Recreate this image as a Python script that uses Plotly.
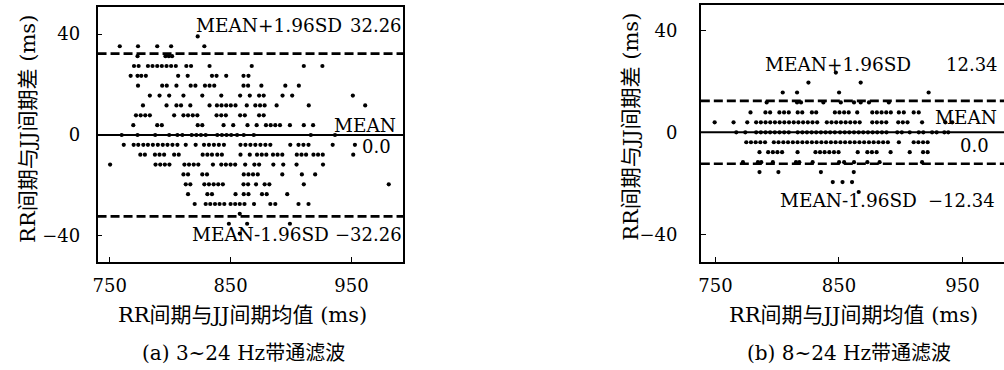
import plotly.graph_objects as go

# ---------------- data ----------------
# Panel (a): 3~24 Hz band-pass. Differences are quantized rows (ms); means per row (ms)
a_levels = [39.06, 35.16, 31.25, 27.34, 23.44, 19.53, 15.63, 11.72, 7.81, 3.91, 0.0,
            -3.91, -7.81, -11.72, -15.63, -19.53, -23.44, -27.34, -31.25, -35.16, -39.06]
a_rows = [
    [822.8],
    [758.3, 773.4, 789.3, 800.8, 828.3],
    [773.0, 796.1, 798.9, 801.6],
    [770.1, 773.9, 781.6, 785.4, 789.3, 793.1, 797.0, 800.8, 804.7, 813.4, 817.3, 832.6, 867.5, 910.6, 926.0],
    [767.3, 773.0, 776.1, 779.9, 806.6, 814.5, 834.6, 838.4, 846.4, 860.7, 864.8],
    [773.4, 793.4, 797.2, 805.2, 817.0, 820.9, 828.8, 832.6, 836.5, 860.7, 864.5, 875.5, 895.3, 906.5],
    [783.2, 791.2, 799.2, 811.0, 826.6, 842.3, 857.9, 865.9, 873.6, 877.4, 893.0, 901.0, 951.2],
    [777.5, 797.0, 805.2, 809.0, 816.7, 832.6, 838.7, 842.5, 846.4, 850.2, 854.1, 863.4, 870.5, 874.4, 878.2, 888.1, 914.7, 961.4],
    [771.7, 775.6, 779.4, 783.2, 803.3, 811.0, 814.8, 818.7, 822.5, 838.4, 842.3, 846.1, 857.9, 861.8, 873.6, 877.4],
    [769.5, 789.3, 793.1, 822.8, 826.6, 844.2, 852.2, 864.0, 871.6, 879.3, 883.2, 887.0, 890.9, 899.1, 910.6, 918.3],
    [759.9, 773.0, 787.6, 799.2, 806.0, 810.1, 817.8, 821.7, 825.5, 829.4, 839.0, 842.8, 846.7, 850.5, 855.4, 860.9, 869.2, 916.4, 936.4],
    [761.6, 769.8, 773.6, 777.8, 781.6, 785.7, 789.8, 793.9, 797.8, 801.9, 806.0, 812.9, 821.1, 828.0, 832.1, 836.2, 840.3, 844.5,
     858.2, 862.3, 866.4, 870.5, 874.7, 878.8, 882.9, 899.4, 906.2, 910.3, 914.5, 934.5, 952.9],
    [775.3, 779.1, 787.4, 791.2, 795.0, 803.3, 807.1, 826.9, 830.8, 834.6, 839.0, 842.8, 858.2, 865.9, 871.9, 875.8, 879.6,
     885.1, 888.9, 892.8, 904.8, 908.7, 912.5, 918.6, 922.4, 926.3, 951.5],
    [750.3, 787.9, 791.8, 795.6, 799.4, 811.8, 815.6, 819.5, 823.3, 835.4, 842.3, 846.1, 850.0, 853.8, 862.1, 869.7, 873.6,
     885.4, 893.6, 904.6, 926.5],
    [811.0, 814.8, 826.6, 830.5, 860.9, 864.8, 868.6, 872.5, 892.8, 909.0, 920.0],
    [812.9, 816.7, 828.3, 832.1, 836.0, 839.8, 843.6, 860.7, 864.5, 871.1, 878.2, 882.1, 910.6, 980.9],
    [814.8, 830.8, 834.6, 854.1, 860.9, 864.8, 876.0, 879.9, 896.9],
    [820.3, 829.4, 833.2, 837.1, 840.9, 844.8, 850.0, 853.8, 857.6, 861.5, 869.4, 882.9, 887.0, 906.2, 914.5],
    [857.6],
    [848.6, 863.7, 899.1],
    [857.6],
]
a_mean_line = 0.0
a_upper = 32.26
a_lower = -32.26

# Panel (b): 8~24 Hz band-pass
b_levels = [23.44, 19.53, 15.63, 11.72, 7.81, 3.91, 0.0, -3.91, -7.81, -11.72, -15.63, -19.53, -23.44]
b_rows = [
    [847.5],
    [825.3, 867.6],
    [804.5, 816.1, 850.1, 922.6],
    [791.5, 816.1, 819.3, 837.4, 851.5, 862.2, 867.6, 874.3, 890.4],
    [778.4, 790.5, 794.3, 801.8, 805.6, 809.4, 816.6, 820.3, 828.1, 831.6, 846.7, 850.4, 854.2, 857.9, 864.8,
     877.0, 880.7, 884.5, 888.3, 892.0, 898.5, 902.5, 910.5, 914.6],
    [749.4, 764.7, 775.8, 783.0, 786.8, 790.6, 794.4, 798.2, 802.0, 805.8, 809.6, 813.4, 817.2, 821.0, 824.8, 828.6,
     832.4, 840.2, 844.0, 847.8, 851.6, 855.4, 859.2, 863.0, 866.8, 877.0, 880.7, 884.5, 888.3, 898.0, 901.7, 905.5,
     917.3, 936.1, 941.7],
    [766.9, 774.2, 783.0, 786.8, 790.6, 794.3, 798.1, 801.9, 805.7, 809.4, 816.6, 820.4, 824.1, 827.9, 831.6, 835.4,
     839.2, 842.9, 846.7, 850.9, 854.7, 858.4, 862.2, 866.0, 869.7, 873.5, 877.3, 881.0, 884.8, 888.5, 897.2, 900.9,
     907.3, 914.6, 918.3, 925.4, 929.1, 935.3, 938.5],
    [775.0, 778.8, 782.6, 786.4, 790.2, 797.3, 801.1, 805.0, 808.8, 812.7, 816.5, 820.4, 824.2, 828.1, 831.9, 835.8,
     839.6, 843.5, 847.3, 851.2, 855.0, 858.9, 862.7, 866.6, 870.4, 874.3, 878.1, 882.0, 885.8, 889.6, 898.5, 910.5,
     914.3, 918.1, 921.8],
    [785.7, 792.7, 796.5, 800.2, 804.0, 816.5, 831.0, 834.7, 838.4, 842.2, 846.0, 849.7, 865.2, 873.0, 876.7, 880.5,
     891.8, 907.3, 918.1, 921.8],
    [772.3, 784.4, 787.1, 796.5, 815.2, 817.9, 828.7, 850.1, 854.2, 862.2, 873.0, 882.9, 917.3],
    [785.7, 801.0, 835.4, 862.0],
    [845.0, 852.9, 860.6],
    [866.0],
]
b_mean_line = 0.0
b_upper = 12.34
b_lower = -12.34

x_ticks = [750, 850, 950]
y_ticks = [-40, 0, 40]

x_title = "RR间期与JJ间期均值 (ms)"
y_title = "RR间期与JJ间期差 (ms)"
cap_a = "(a) 3~24 Hz带通滤波"
cap_b = "(b) 8~24 Hz带通滤波"

# ---------------- figure ----------------
W, H = 1004, 370
FONT = "'DejaVu Serif', 'Noto Sans CJK SC', serif"


def flat(levels, rows):
    xs, ys = [], []
    for lv, row in zip(levels, rows):
        for v in row:
            xs.append(v)
            ys.append(lv)
    return xs, ys


ax, ay = flat(a_levels, a_rows)
bx, by = flat(b_levels, b_rows)

fig = go.Figure()
mk = dict(color="black", size=4.2)
fig.add_trace(go.Scatter(x=ax, y=ay, mode="markers", marker=mk, xaxis="x", yaxis="y",
                         showlegend=False, hoverinfo="skip"))
fig.add_trace(go.Scatter(x=bx, y=by, mode="markers", marker=mk, xaxis="x2", yaxis="y2",
                         showlegend=False, hoverinfo="skip"))


def px(xp):
    return xp / W


def py(yp):
    return 1 - yp / H


axis_common = dict(showgrid=False, zeroline=False, showline=True, linecolor="black", linewidth=1.6,
                   ticks="inside", ticklen=5, tickwidth=1.2, tickcolor="black",
                   tickfont=dict(family=FONT, size=18, color="black"))

fig.update_layout(
    width=W, height=H, margin=dict(l=0, r=0, t=0, b=0),
    paper_bgcolor="white", plot_bgcolor="white",
    xaxis=dict(domain=[px(93), px(400)], range=[739.9, 992.7], anchor="y", mirror=True,
               tickvals=x_ticks, ticklabelstandoff=7, **axis_common),
    yaxis=dict(domain=[py(261.7), py(7.3)], range=[-50.2, 50.6], anchor="x", mirror=True,
               tickvals=y_ticks, ticklabelstandoff=12, **axis_common),
    xaxis2=dict(domain=[px(699.3), 1.0], range=[738.2, 983.6], anchor="y2", mirror=True,
                tickvals=x_ticks, ticklabelstandoff=7, **axis_common),
    yaxis2=dict(domain=[py(261.7), py(4.7)], range=[-50.8, 50.1], anchor="x2", mirror=False,
                tickvals=y_ticks, ticklabelstandoff=18, **axis_common),
)

# reference lines
for xr, yr, m, u, l in [("x", "y", a_mean_line, a_upper, a_lower), ("x2", "y2", b_mean_line, b_upper, b_lower)]:
    fig.add_shape(type="line", xref=xr + " domain", yref=yr, x0=0, x1=1, y0=m, y1=m,
                  line=dict(color="black", width=2))
    for v in (u, l):
        fig.add_shape(type="line", xref=xr + " domain", yref=yr, x0=0, x1=1, y0=v, y1=v,
                      line=dict(color="black", width=2.6, dash="9px,4px"))


def txt(s, xp, yp, anchor="left", size=18, angle=0):
    fig.add_annotation(text=s, x=px(xp), y=py(yp), xref="paper", yref="paper", showarrow=False,
                       xanchor=anchor, yanchor="middle", textangle=angle, borderpad=0,
                       font=dict(family=FONT, size=size, color="black"))


LBL = 18.5  # size of the MEAN labels
NUM = 18    # size of the numeric labels
# panel (a) labels
txt("MEAN+1.96SD", 191, 26, "left", LBL)
txt(f"{a_upper:.2f}", 400, 26, "right", NUM)
txt("MEAN", 394, 125, "right", LBL)
txt(f"{a_mean_line:.1f}", 389, 147, "right", NUM)
txt("MEAN-1.96SD", 187, 235, "left", LBL)
txt(f"\u2212{abs(a_lower):.2f}", 400, 235, "right", NUM)
# panel (b) labels
txt("MEAN+1.96SD", 763, 64, "left", LBL)
txt(f"{b_upper:.2f}", 999, 64, "right", NUM)
txt("MEAN", 998, 117, "right", LBL)
txt(f"{b_mean_line:.1f}", 990, 145, "right", NUM)
txt("MEAN-1.96SD", 778, 200, "left", LBL)
txt(f"\u2212{abs(b_lower):.2f}", 996, 200, "right", NUM)

# axis titles and captions
txt(x_title, 239, 315, "center", size=21)
txt(cap_a, 240, 353, "center", size=20)
txt(x_title, 853, 315, "center", size=21)
txt(cap_b, 848, 353, "center", size=20)
txt(y_title, 23, 129, "center", size=21, angle=-90)
txt(y_title, 629, 127, "center", size=21, angle=-90)

fig.write_html("out.html", include_plotlyjs=True, config={"displayModeBar": False})
